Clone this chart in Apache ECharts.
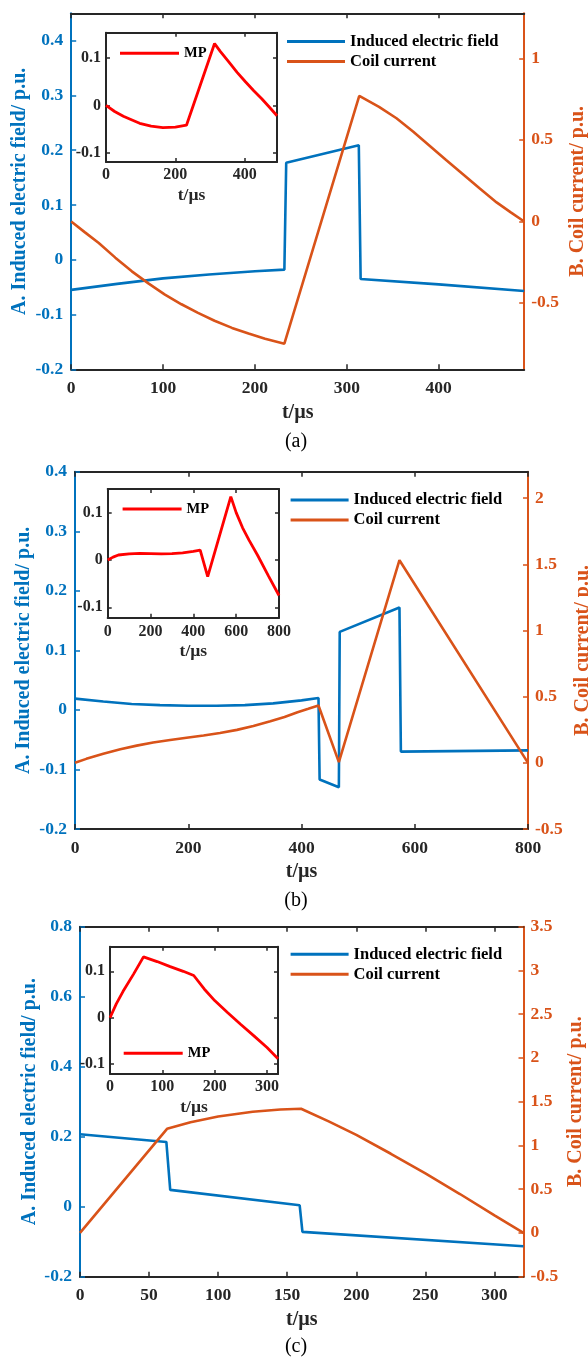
<!DOCTYPE html>
<html><head><meta charset="utf-8">
<script src="https://cdn.jsdelivr.net/npm/echarts@6/dist/echarts.min.js"></script>
<style>html,body{margin:0;padding:0;background:#fff}#c{width:588px;height:1357px}</style>
</head><body><div id="c"></div>
<script>
// ---------------- data (t in µs, values in p.u.) ----------------
// panel (a)
const fieldA_t = [0, 50, 100, 150, 200, 232, 234, 313, 315, 400, 493];
const fieldA_v = [-0.055, -0.044, -0.034, -0.027, -0.021, -0.018, 0.177, 0.209, -0.035, -0.045, -0.057];
const currentA_t = [0, 15, 30, 48, 66, 84, 102, 120, 138, 156, 175, 193, 211, 232, 313.5, 335, 354, 372, 390, 408, 427, 445, 463, 478, 493];
const currentA_v = [0, -0.067, -0.132, -0.222, -0.306, -0.38, -0.449, -0.508, -0.561, -0.609, -0.653, -0.688, -0.72, -0.75, 0.77, 0.703, 0.633, 0.552, 0.465, 0.377, 0.287, 0.2, 0.117, 0.057, 0];
const mpA_t = [0, 25, 50, 75, 97, 130, 164, 200, 232, 313, 330, 354, 378, 402, 426, 449, 470, 493];
const mpA_v = [0, -0.013, -0.023, -0.031, -0.038, -0.044, -0.047, -0.046, -0.042, 0.131, 0.114, 0.092, 0.07, 0.05, 0.031, 0.014, -0.003, -0.022];
// panel (b)
const fieldB_t = [0, 50, 100, 150, 200, 250, 300, 350, 400, 430, 432, 466, 467.5, 573, 575.5, 800];
const fieldB_v = [0.019, 0.014, 0.010, 0.008, 0.007, 0.007, 0.008, 0.011, 0.016, 0.02, -0.117, -0.13, 0.131, 0.172, -0.07, -0.068];
const currentB_t = [0, 20, 50, 80, 109, 138, 168, 197, 227, 256, 286, 315, 345, 370, 393, 412, 430, 466, 573, 800];
const currentB_v = [0, 0.03, 0.068, 0.102, 0.13, 0.153, 0.173, 0.19, 0.206, 0.226, 0.249, 0.278, 0.314, 0.346, 0.382, 0.408, 0.433, 0.005, 1.531, 0];
const mpB_t = [0, 25, 50, 100, 150, 200, 250, 300, 350, 400, 432, 467, 575, 600, 630, 660, 700, 750, 800];
const mpB_v = [0, 0.006, 0.0105, 0.013, 0.014, 0.0135, 0.013, 0.0135, 0.015, 0.018, 0.021, -0.035, 0.134, 0.100, 0.068, 0.042, 0.010, -0.033, -0.075];
// panel (c)
const fieldC_t = [0, 62.5, 65.3, 159, 161, 321];
const fieldC_v = [0.207, 0.185, 0.048, 0.004, -0.072, -0.113];
const currentC_t = [0, 63, 80, 100, 125, 145, 160, 180, 200, 225, 250, 275, 300, 321];
const currentC_v = [0, 1.19, 1.265, 1.33, 1.385, 1.41, 1.42, 1.275, 1.12, 0.905, 0.68, 0.445, 0.2, 0];
const mpC_t = [0, 12, 25, 45, 64, 90, 115, 140, 160, 180, 200, 225, 250, 275, 300, 321];
const mpC_v = [0, 0.03, 0.057, 0.094, 0.131, 0.121, 0.11, 0.1, 0.091, 0.062, 0.037, 0.011, -0.0145, -0.039, -0.064, -0.088];

// tick labels
const ticksA_x = [0, 100, 200, 300, 400];
const ticksB_x = [0, 200, 400, 600, 800];
const ticksC_x = [0, 50, 100, 150, 200, 250, 300];
const ticksA_l = [-0.2, -0.1, 0, 0.1, 0.2, 0.3, 0.4];
const ticksB_l = [-0.2, -0.1, 0, 0.1, 0.2, 0.3, 0.4];
const ticksC_l = [-0.2, 0, 0.2, 0.4, 0.6, 0.8];
const ticksA_r = [-0.5, 0, 0.5, 1];
const ticksB_r = [-0.5, 0, 0.5, 1, 1.5, 2];
const ticksC_r = [-0.5, 0, 0.5, 1, 1.5, 2, 2.5, 3, 3.5];
const ticksInsetA_x = [0, 200, 400];
const ticksInsetB_x = [0, 200, 400, 600, 800];
const ticksInsetC_x = [0, 100, 200, 300];
const ticksInset_y = [-0.1, 0, 0.1];

// ---------------- chart ----------------
const zip = (t, v) => t.map((x, i) => [x, v[i]]);
const BLUE = '#0072BD', ORANGE = '#D95319', RED = '#FF0000', AX = '#262626';
const FONT = 'Liberation Serif';
const grids = [], xAxes = [], yAxes = [], series = [], legends = [], graphics = [];

function axisCommon(color, ticks, showLabel, fontSize, margin, z, tickLen) {
  return {
    type: 'value', z: z, nameMoveOverlap: false,
    axisLine: { show: true, onZero: false, lineStyle: { color: color, width: 2 } },
    axisTick: { show: true, inside: true, length: tickLen, lineStyle: { color: color, width: 1.5 }, customValues: ticks },
    axisLabel: { show: showLabel, customValues: ticks, color: color, fontFamily: FONT, fontWeight: 'bold', fontSize: fontSize, margin: margin },
    splitLine: { show: false }
  };
}

function addMain(p) {
  const gi = grids.length;
  grids.push({ left: p.left, top: p.top, width: p.width, height: p.height, z: 2, containLabel: false, outerBoundsMode: 'none' });
  const xb = xAxes.length;
  xAxes.push(Object.assign(axisCommon(AX, p.xticks, true, 17.5, 10, 3, 5), {
    gridIndex: gi, position: 'bottom', min: 0, max: p.xmax,
    name: 't/µs', nameLocation: 'middle', nameGap: p.xgap,
    nameTextStyle: { color: AX, fontFamily: FONT, fontWeight: 'bold', fontSize: 20 }
  }));
  xAxes.push(Object.assign(axisCommon(AX, p.xticks, false, 17.5, 10, 3, 5), {
    gridIndex: gi, position: 'top', min: 0, max: p.xmax
  }));
  const yl = yAxes.length;
  yAxes.push(Object.assign(axisCommon(BLUE, p.lticks, true, 17.5, 8, 3, 5), {
    gridIndex: gi, position: 'left', min: p.lmin, max: p.lmax,
    name: 'A. Induced electric field/ p.u.', nameLocation: 'middle', nameRotate: 90, nameGap: p.lgap,
    nameTextStyle: { color: BLUE, fontFamily: FONT, fontWeight: 'bold', fontSize: 20 }
  }));
  yAxes.push(Object.assign(axisCommon(ORANGE, p.rticks, true, 17.5, 7, 3, 5), {
    gridIndex: gi, position: 'right', min: p.rmin, max: p.rmax,
    name: 'B. Coil current/ p.u.', nameLocation: 'middle', nameRotate: 90, nameGap: p.rgap,
    nameTextStyle: { color: ORANGE, fontFamily: FONT, fontWeight: 'bold', fontSize: 20 }
  }));
  series.push({ type: 'line', name: 'Induced electric field', xAxisIndex: xb, yAxisIndex: yl,
    data: zip(p.ft, p.fv), symbol: 'none', z: 3,
    lineStyle: { color: BLUE, width: 2.6 }, itemStyle: { color: BLUE } });
  series.push({ type: 'line', name: 'Coil current', xAxisIndex: xb, yAxisIndex: yl + 1,
    data: zip(p.ct, p.cv), symbol: 'none', z: 3,
    lineStyle: { color: ORANGE, width: 2.6 }, itemStyle: { color: ORANGE } });
  legends.push({ orient: 'vertical', left: p.legLeft, top: p.legTop, padding: 0, icon: 'rect', itemWidth: 58, itemHeight: 3, itemGap: 2,
    selectedMode: false, data: ['Induced electric field', 'Coil current'],
    textStyle: { fontFamily: FONT, fontWeight: 'bold', fontSize: 16.5, color: '#000', lineHeight: 18 } });
  graphics.push({ type: 'text', x: 296, y: p.capY, style: { text: p.cap, align: 'center', verticalAlign: 'middle',
    fontFamily: FONT, fontSize: 20, fill: '#000' } });
}

function addInset(p) {
  const gi = grids.length;
  grids.push({ left: p.left, top: p.top, width: p.width, height: p.height, show: true, backgroundColor: '#fff', borderWidth: 0, z: 5,
    containLabel: false, outerBoundsMode: 'none' });
  const xb = xAxes.length;
  xAxes.push(Object.assign(axisCommon(AX, p.xticks, true, 16, p.xmargin, 6, 4), {
    gridIndex: gi, position: 'bottom', min: 0, max: p.xmax,
    name: 't/µs', nameLocation: 'middle', nameGap: p.namegap,
    nameTextStyle: { color: AX, fontFamily: FONT, fontWeight: 'bold', fontSize: 17.5 }
  }));
  xAxes.push(Object.assign(axisCommon(AX, p.xticks, false, 16, 5, 6, 4), {
    gridIndex: gi, position: 'top', min: 0, max: p.xmax
  }));
  const yl = yAxes.length;
  yAxes.push(Object.assign(axisCommon(AX, ticksInset_y, true, 16, 5, 6, 4), {
    gridIndex: gi, position: 'left', min: p.ymin, max: p.ymax
  }));
  yAxes.push(Object.assign(axisCommon(AX, ticksInset_y, false, 16, 5, 6, 4), {
    gridIndex: gi, position: 'right', min: p.ymin, max: p.ymax
  }));
  series.push({ type: 'line', name: 'MP', xAxisIndex: xb, yAxisIndex: yl,
    data: zip(p.t, p.v), symbol: 'none', z: 7,
    lineStyle: { color: RED, width: 2.8 }, itemStyle: { color: RED } });
  legends.push({ orient: 'vertical', left: p.legLeft, top: p.legTop, padding: 0, icon: 'rect', itemWidth: 59, itemHeight: 3, z: 10,
    selectedMode: false, data: ['MP'],
    textStyle: { fontFamily: FONT, fontWeight: 'bold', fontSize: 14.5, color: '#000', lineHeight: 16 } });
}

addMain({ left: 71.2, top: 13.3, width: 453, height: 356, xmax: 493, xticks: ticksA_x,
  lmin: -0.2, lmax: 0.45, lticks: ticksA_l, rmin: -0.907, rmax: 1.277, rticks: ticksA_r, lgap: 41, rgap: 43.3, xgap: 34,
  ft: fieldA_t, fv: fieldA_v, ct: currentA_t, cv: currentA_v, legLeft: 287, legTop: 32.5, cap: '(a)', capY: 441.7 });
addInset({ left: 106, top: 32.7, width: 171, height: 129.3, xmax: 493, xticks: ticksInsetA_x, ymin: -0.12, ymax: 0.154,
  xmargin: 5, namegap: 24, t: mpA_t, v: mpA_v, legLeft: 120, legTop: 45.3 });

addMain({ left: 75, top: 471.7, width: 453, height: 357.3, xmax: 800, xticks: ticksB_x,
  lmin: -0.2, lmax: 0.4, lticks: ticksB_l, rmin: -0.5, rmax: 2.2, rticks: ticksB_r, lgap: 41, rgap: 45, xgap: 33,
  ft: fieldB_t, fv: fieldB_v, ct: currentB_t, cv: currentB_v, legLeft: 290.6, legTop: 491, cap: '(b)', capY: 900.7 });
addInset({ left: 107.7, top: 489, width: 171.3, height: 128.7, xmax: 800, xticks: ticksInsetB_x, ymin: -0.122, ymax: 0.15,
  xmargin: 6, namegap: 25, t: mpB_t, v: mpB_v, legLeft: 122.6, legTop: 501 });

addMain({ left: 80, top: 926.7, width: 443.5, height: 350, xmax: 321, xticks: ticksC_x,
  lmin: -0.2, lmax: 0.8, lticks: ticksC_l, rmin: -0.5, rmax: 3.5, rticks: ticksC_r, lgap: 40, rgap: 42, xgap: 33,
  ft: fieldC_t, fv: fieldC_v, ct: currentC_t, cv: currentC_v, legLeft: 290.6, legTop: 945.3, cap: '(c)', capY: 1346.7 });
addInset({ left: 110, top: 946.7, width: 168, height: 127.3, xmax: 321, xticks: ticksInsetC_x, ymin: -0.121, ymax: 0.153,
  xmargin: 5, namegap: 24, t: mpC_t, v: mpC_v, legLeft: 123.7, legTop: 1045.3 });

const chart = echarts.init(document.getElementById('c'), null, { renderer: 'canvas' });
chart.setOption({
  animation: false,
  backgroundColor: '#fff',
  grid: grids, xAxis: xAxes, yAxis: yAxes, series: series, legend: legends, graphic: graphics
});
</script></body></html>
